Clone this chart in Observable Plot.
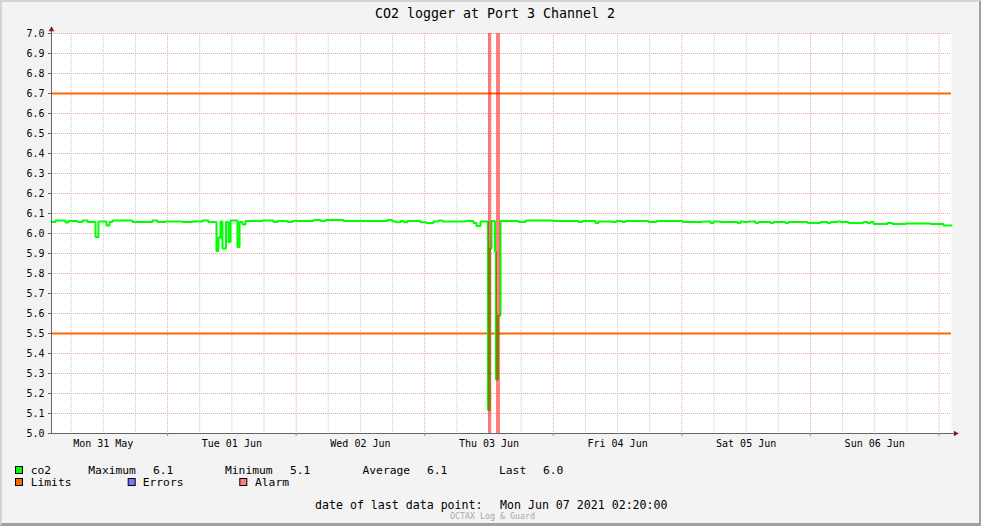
<!DOCTYPE html>
<html>
<head>
<meta charset="utf-8">
<script src="https://cdn.jsdelivr.net/npm/d3@7"></script>
<script src="https://cdn.jsdelivr.net/npm/@observablehq/plot@0.6"></script>
<style>
  html, body { margin: 0; padding: 0; background: #f3f3f3; }
  #wrap { position: relative; width: 981px; height: 526px; overflow: hidden; background: #f3f3f3; font-family: "DejaVu Sans Mono", monospace; }
  #wrap > svg { position: absolute; left: 0; top: 0; }
  #border { position: absolute; left: 0; top: 0; width: 981px; height: 526px; box-sizing: border-box;
            border-style: solid; border-width: 2px 2px 3px 2px; border-color: #d4d4d4 #a0a0a0 #a0a0a0 #d4d4d4; pointer-events: none; }
</style>
</head>
<body>
<div id="wrap"><div id="border"></div></div>
<script>
// ---------------- data ----------------
const title = "CO2 logger at Port 3 Channel 2";
const xStart = "2021-05-31T02:20";
const xEnd = "2021-06-07T02:20";
const yTicks = [5.0, 5.1, 5.2, 5.3, 5.4, 5.5, 5.6, 5.7, 5.8, 5.9, 6.0, 6.1, 6.2, 6.3, 6.4, 6.5, 6.6, 6.7, 6.8, 6.9, 7.0];
const dayNoon = ["2021-05-31T12:00", "2021-06-01T12:00", "2021-06-02T12:00", "2021-06-03T12:00", "2021-06-04T12:00", "2021-06-05T12:00", "2021-06-06T12:00"];
const dayLabels = ["Mon 31 May", "Tue 01 Jun", "Wed 02 Jun", "Thu 03 Jun", "Fri 04 Jun", "Sat 05 Jun", "Sun 06 Jun"];
const midnights = ["2021-06-01T00:00", "2021-06-02T00:00", "2021-06-03T00:00", "2021-06-04T00:00", "2021-06-05T00:00", "2021-06-06T00:00", "2021-06-07T00:00"];
const limits = [5.5, 6.7];
const alarmStart = ["2021-06-03T11:54", "2021-06-03T13:24"];
const alarmEnd = ["2021-06-03T12:31", "2021-06-03T14:09"];

const co2Times = [
  "2021-05-31T02:20", "2021-05-31T03:05", "2021-05-31T04:57", "2021-05-31T05:30", "2021-05-31T07:11",
  "2021-05-31T08:07", "2021-05-31T09:03", "2021-05-31T10:33", "2021-05-31T11:06", "2021-05-31T12:36",
  "2021-05-31T13:10", "2021-05-31T13:43", "2021-05-31T17:27", "2021-05-31T21:11", "2021-05-31T22:07",
  "2021-05-31T23:37", "2021-06-01T02:47", "2021-06-01T04:39", "2021-06-01T06:31", "2021-06-01T07:38",
  "2021-06-01T09:08", "2021-06-01T09:30", "2021-06-01T09:53", "2021-06-01T10:15", "2021-06-01T10:54",
  "2021-06-01T11:22", "2021-06-01T11:45", "2021-06-01T13:03", "2021-06-01T13:26", "2021-06-01T13:59",
  "2021-06-01T14:33", "2021-06-01T17:43", "2021-06-01T19:46", "2021-06-01T20:31", "2021-06-01T22:23",
  "2021-06-01T23:19", "2021-06-02T03:14", "2021-06-02T04:33", "2021-06-02T05:29", "2021-06-02T08:50",
  "2021-06-02T17:03", "2021-06-02T17:59", "2021-06-02T18:33", "2021-06-02T19:29", "2021-06-02T20:02",
  "2021-06-02T20:47", "2021-06-02T23:13", "2021-06-03T00:20", "2021-06-03T01:38", "2021-06-03T02:34",
  "2021-06-03T03:19", "2021-06-03T07:37", "2021-06-03T09:06", "2021-06-03T09:40", "2021-06-03T10:25",
  "2021-06-03T11:49", "2021-06-03T12:09", "2021-06-03T12:28", "2021-06-03T13:07", "2021-06-03T13:18",
  "2021-06-03T13:41", "2021-06-03T14:09", "2021-06-03T17:30", "2021-06-03T18:49", "2021-06-03T23:51",
  "2021-06-04T04:42", "2021-06-04T05:27", "2021-06-04T07:53", "2021-06-04T08:26", "2021-06-04T11:03",
  "2021-06-04T11:48", "2021-06-04T12:55", "2021-06-04T13:29", "2021-06-04T17:46", "2021-06-04T19:16",
  "2021-06-05T00:07", "2021-06-05T03:51", "2021-06-05T05:21", "2021-06-05T05:54", "2021-06-05T07:13",
  "2021-06-05T10:23", "2021-06-05T10:57", "2021-06-05T11:30", "2021-06-05T12:26", "2021-06-05T13:45",
  "2021-06-05T14:18", "2021-06-05T16:33", "2021-06-05T17:06", "2021-06-05T19:21", "2021-06-05T19:54",
  "2021-06-05T23:27", "2021-06-06T01:53", "2021-06-06T03:11", "2021-06-06T03:45", "2021-06-06T05:03",
  "2021-06-06T05:37", "2021-06-06T07:06", "2021-06-06T09:54", "2021-06-06T10:39", "2021-06-06T11:13",
  "2021-06-06T11:46", "2021-06-06T14:23", "2021-06-06T15:19", "2021-06-06T17:45", "2021-06-06T22:25",
  "2021-06-07T00:50", "2021-06-07T02:20"
];
const co2Values = [
  6.057, 6.065, 6.055, 6.062, 6.057,
  6.065, 6.058, 5.982, 6.060, 6.040,
  6.057, 6.065, 6.058, 6.065, 6.057,
  6.060, 6.057, 6.060, 6.065, 6.057,
  5.912, 5.980, 6.060, 5.925, 6.058,
  5.957, 6.065, 5.932, 6.058, 6.045,
  6.062, 6.065, 6.057, 6.062, 6.057,
  6.062, 6.068, 6.062, 6.067, 6.062,
  6.067, 6.060, 6.056, 6.062, 6.056,
  6.062, 6.056, 6.052, 6.060, 6.065,
  6.060, 6.062, 6.052, 6.037, 6.060,
  5.118, 5.925, 6.062, 5.910, 5.270,
  5.590, 6.062, 6.057, 6.065, 6.062,
  6.057, 6.062, 6.052, 6.060, 6.057,
  6.062, 6.057, 6.062, 6.057, 6.062,
  6.057, 6.060, 6.052, 6.060, 6.057,
  6.052, 6.060, 6.057, 6.060, 6.052,
  6.057, 6.052, 6.057, 6.052, 6.057,
  6.052, 6.057, 6.052, 6.057, 6.060,
  6.057, 6.052, 6.057, 6.052, 6.057,
  6.048, 6.052, 6.048, 6.050, 6.048,
  6.040, 6.040
];

const legendItems = ["co2", "Limits", "Errors", "Alarm"];
const legendColors = ["#00ff00", "#ff6600", "#7777ff", "#ff7f7f"];
const statNames = ["Maximum", "Minimum", "Average", "Last"];
const lastDataPoint = "Mon Jun 07 2021 02:20:00";
const footer = "OCTAX Log & Guard";

// ---------------- build ----------------
const parse = s => new Date(s + ":00Z");
const xDomain = [parse(xStart), parse(xEnd)];
const yDomain = [yTicks[0], yTicks[yTicks.length - 1]];
const co2 = co2Times.map((t, i) => ({t: parse(t), v: co2Values[i]}));
const alarms = alarmStart.map((s, i) => ({start: parse(s), end: parse(alarmEnd[i])}));
const noonDates = dayNoon.map(parse);
const midDates = midnights.map(parse);
const midSet = new Set(midDates.map(d => +d));
const minorDates = d3.utcHour.every(6).range(xDomain[0], xDomain[1]).filter(d => !midSet.has(+d));

const mono = "DejaVu Sans Mono, monospace";
const chart = Plot.plot({
  width: 981, height: 526,
  marginLeft: 51, marginRight: 30, marginTop: 33, marginBottom: 93,
  style: {background: "transparent", fontFamily: mono, fontSize: "10px", color: "#000", overflow: "visible"},
  x: {type: "utc", domain: xDomain, label: null},
  y: {domain: yDomain, label: null},
  marks: [
    Plot.frame({fill: "#ffffff", stroke: "none"}),
    Plot.ruleX(minorDates, {stroke: "#c8c8c8", strokeDasharray: "1,1"}),
    Plot.ruleX(midDates, {stroke: "#e2a6a6", strokeDasharray: "1,1"}),
    Plot.ruleY(yTicks, {stroke: "#e2a6a6", strokeDasharray: "1,1"}),
    Plot.ruleY(limits, {stroke: "#ff6600", strokeWidth: 2}),
    Plot.line(co2, {x: "t", y: "v", stroke: "#00ff00", strokeWidth: 2, curve: "step-after", strokeLinejoin: "miter"}),
    Plot.rect(alarms, {x1: "start", x2: "end", y1: () => yDomain[0], y2: () => yDomain[1], fill: "#ff0000", fillOpacity: 0.5}),
    Plot.ruleX([xDomain[0]], {stroke: "#666666", insetTop: -3}),
    Plot.ruleY([yDomain[0]], {stroke: "#666666", insetLeft: -3, insetRight: -4}),
    Plot.dot([0], {frameAnchor: "top-left", dy: -4, symbol: "triangle", r: 2.1, fill: "#8b1a1a", stroke: "none"}),
    Plot.dot([0], {frameAnchor: "bottom-right", dx: 4, symbol: "triangle", rotate: 90, r: 2.1, fill: "#8b1a1a", stroke: "none"}),
    Plot.axisY({ticks: yTicks, tickSize: 3, tickPadding: 4, tickFormat: d => d.toFixed(1), stroke: "#666666", fill: "#000", label: null}),
    Plot.axisX({ticks: midDates, tickSize: 3, tickFormat: () => "", stroke: "#d97070", label: null}),
    Plot.axisX({ticks: noonDates, tickSize: 0, tickPadding: 6, fill: "#000", label: null,
      tickFormat: d => dayLabels[noonDates.findIndex(n => +n === +d)]})
  ]
});
const wrap = document.getElementById("wrap");
wrap.insertBefore(chart, wrap.firstChild);

// ---------------- title, legend, footer ----------------
const ov = d3.select(wrap).append("svg")
  .attr("width", 981).attr("height", 526)
  .style("font-family", mono);

ov.append("text").attr("x", 495).attr("y", 18).attr("text-anchor", "middle")
  .attr("font-size", "13.3px").attr("fill", "#000").text(title);

// time-weighted average of the step series
let wsum = 0, wtot = 0;
for (let i = 0; i < co2.length - 1; i++) {
  const dt = co2[i + 1].t - co2[i].t;
  wsum += co2[i].v * dt; wtot += dt;
}
const stats = [d3.max(co2Values), d3.min(co2Values), wsum / wtot, co2Values[co2Values.length - 1]];
const lg = ov.append("g").attr("font-size", "11.3px").attr("fill", "#000");
const sq = (x, y, c) => lg.append("rect").attr("x", x + 0.5).attr("y", y + 0.5).attr("width", 7).attr("height", 7)
  .attr("fill", c).attr("stroke", "#000").attr("stroke-width", 1);
const tx = (x, y, s) => lg.append("text").attr("x", x).attr("y", y).style("white-space", "pre").text(s);

// row 1
sq(15, 466, legendColors[0]); tx(30.7, 474, legendItems[0]);
const statX = [88.3, 225, 362.5, 499];
const valX = [153, 290, 427, 543];
statNames.forEach((n, i) => { tx(statX[i], 474, n); tx(valX[i], 474, stats[i].toFixed(1)); });
// row 2
sq(15, 478, legendColors[1]); tx(30.7, 486, legendItems[1]);
sq(127.7, 478, legendColors[2]); tx(142.7, 486, legendItems[2]);
sq(239.3, 478, legendColors[3]); tx(255, 486, legendItems[3]);

ov.append("text").attr("x", 315).attr("y", 509).attr("font-size", "11.6px").attr("fill", "#000").text("date of last data point:");
ov.append("text").attr("x", 500).attr("y", 509).attr("font-size", "11.6px").attr("fill", "#000").text(lastDataPoint);
ov.append("text").attr("x", 492.5).attr("y", 519).attr("text-anchor", "middle").attr("font-size", "8.3px").attr("fill", "#a8a8a8").text(footer);

wrap.appendChild(document.getElementById("border"));
</script>
</body>
</html>
